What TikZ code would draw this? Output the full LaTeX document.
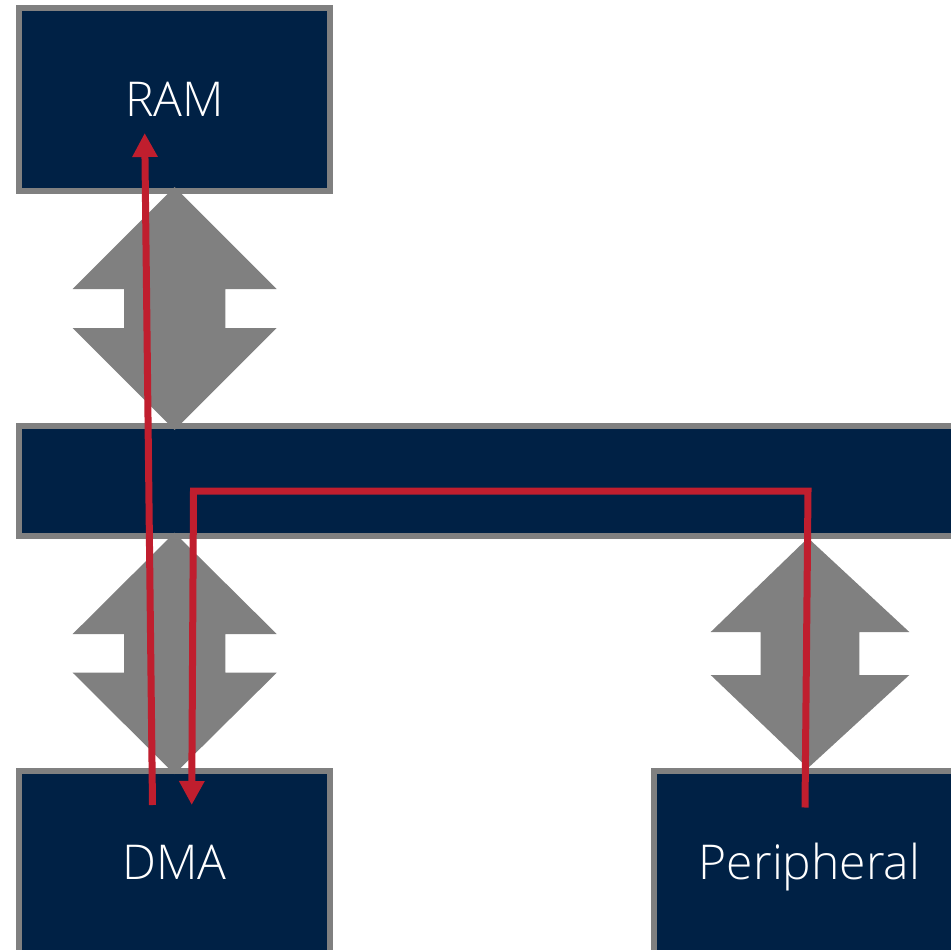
\documentclass[tikz,border=0pt]{standalone}
\usepackage{fontspec}
\setmainfont{Open Sans Light}
\usetikzlibrary{arrows.meta}
\definecolor{navy}{RGB}{0,33,69}
\definecolor{frame}{RGB}{128,128,128}
\definecolor{busred}{RGB}{192,30,46}
\tikzset{
  box/.style={draw=frame, fill=navy, line width=6pt, inner sep=0pt, outer sep=0pt, anchor=north west,
    text=white, font=\fontsize{48}{52}\selectfont, text height=34pt, text depth=0pt},
  garrow/.style={fill=frame, draw=none},
  redline/.style={draw=busred, line width=7pt},
  redtip/.style={-{Triangle[width=24pt,length=24pt]}}
}
\begin{document}
\begin{tikzpicture}[x=1pt,y=-1pt]
\useasboundingbox (0,0) rectangle (951,950);
\clip (0,0) rectangle (951,950);
\fill[white] (0,0) rectangle (951,950);
% boxes
\node[box, minimum width=311pt, minimum height=182.5pt] (ram) at (19,8.5) {RAM};
\node[box, minimum width=980pt, minimum height=109.2pt] (bus) at (19,426.3) {};
\node[box, minimum width=311pt, minimum height=182.5pt] (dma) at (19,771) {DMA};
\node[box, minimum width=311pt, minimum height=182.5pt] (periph) at (654,771) {Peripheral};
% gray double arrows
\fill[garrow] (174.7,187) -- (276.7,289) -- (225.3,289) -- (225.3,328) -- (276.7,328)
  -- (174.7,430) -- (72.7,328) -- (124,328) -- (124,289) -- (72.7,289) -- cycle;
\fill[garrow] (174.5,532.7) -- (276.7,634) -- (225.3,634) -- (225.3,672.7) -- (276.7,672.7)
  -- (174.5,774) -- (72.7,672.7) -- (124,672.7) -- (124,634) -- (72.7,634) -- cycle;
\fill[garrow] (808,538) -- (909.3,632) -- (859.3,632) -- (859.3,675) -- (909.3,675)
  -- (808,768) -- (710.7,675) -- (760.7,675) -- (760.7,632) -- (710.7,632) -- cycle;
% red paths
\coordinate (dmaout) at (152.5,805);
\coordinate (ramin) at (144.7,133);
\coordinate (perout) at (805,807.5);
\coordinate (percorner) at (808,491);
\coordinate (dmacorner) at (193.5,491);
\coordinate (dmain) at (191.7,805);
\draw[redline, redtip] (dmaout) -- (ramin);
\draw[redline, redtip, line join=miter] (perout) -- (percorner) -- (dmacorner) -- (dmain);
\end{tikzpicture}
\end{document}
